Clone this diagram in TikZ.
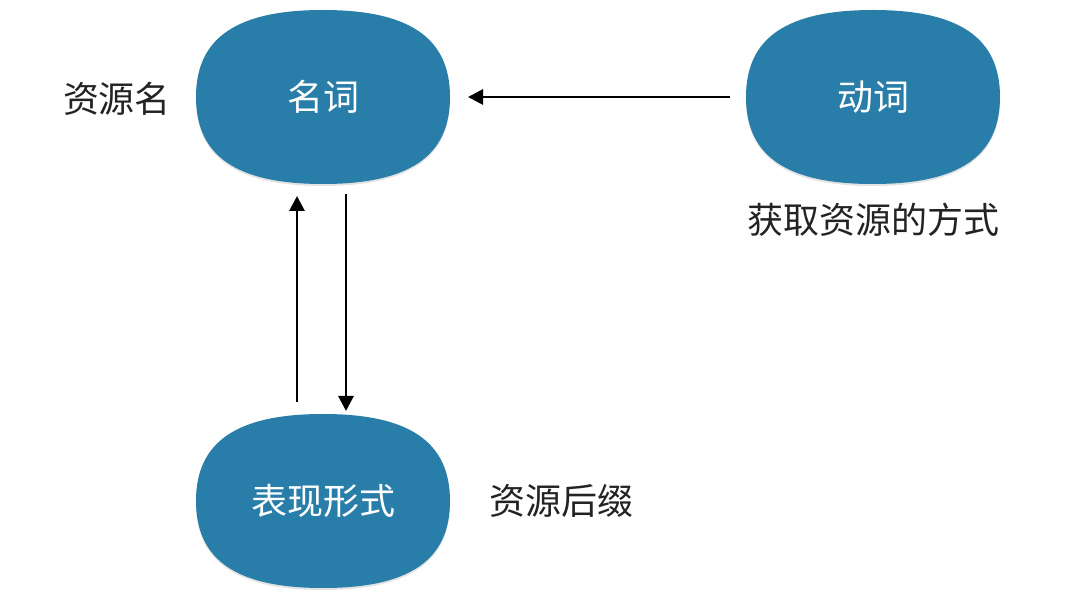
\documentclass[tikz,border=0pt]{standalone}
\usepackage{fontspec}
\newfontfamily\cjk{Noto Sans CJK SC}
\usetikzlibrary{arrows.meta,shadows,calc}
\pgfdeclarelayer{background}
\pgfsetlayers{background,main}
\definecolor{blobblue}{RGB}{41,126,169}
\definecolor{labelgray}{RGB}{35,35,35}
\newcommand{\blobk}{0.68}
\newcommand{\drawblob}[1]{%
  \fill[blobblue, drop shadow={opacity=0.22, shadow xshift=0pt, shadow yshift=-2pt}]
    (#1.east)
    .. controls ($(#1.east)!\blobk!(#1.north east)$) and ($(#1.north)!\blobk!(#1.north east)$) .. (#1.north)
    .. controls ($(#1.north)!\blobk!(#1.north west)$) and ($(#1.west)!\blobk!(#1.north west)$) .. (#1.west)
    .. controls ($(#1.west)!\blobk!(#1.south west)$) and ($(#1.south)!\blobk!(#1.south west)$) .. (#1.south)
    .. controls ($(#1.south)!\blobk!(#1.south east)$) and ($(#1.east)!\blobk!(#1.south east)$) .. (#1.east) -- cycle;}
\tikzset{
  blob/.style={rectangle, draw=none,
    minimum width=254pt, minimum height=174pt, inner sep=0pt, outer sep=0pt,
    text=white, font=\cjk\fontsize{36}{42}\selectfont},
  lbl/.style={text=labelgray, font=\cjk\fontsize{36}{42}\selectfont, inner sep=0pt},
  arr/.style={line width=2.8pt, -{Triangle[length=15pt,width=15pt]}}
}
\begin{document}
\begin{tikzpicture}[x=1pt,y=1pt]
\useasboundingbox (0,0) rectangle (1080,-612);
\node[blob] (noun) at (323,-97) {名词};
\node[blob] (verb) at (873,-97) {动词};
\node[blob] (form) at (323,-501) {表现形式};
\begin{pgfonlayer}{background}
\drawblob{noun}
\drawblob{verb}
\drawblob{form}
\end{pgfonlayer}
\node[lbl] (lname) at (117,-99) {资源名};
\node[lbl] (lway) at (873,-220) {获取资源的方式};
\node[lbl] (lsuf) at (561,-501) {资源后缀};
\draw[arr] ([xshift=-16pt]verb.west) -- ([xshift=18pt]noun.east);
\draw[arr] ([xshift=-26pt,yshift=12pt]form.north) -- ([xshift=-26pt,yshift=-12pt]noun.south);
\draw[arr] ([xshift=23pt,yshift=-10pt]noun.south) -- ([xshift=23pt,yshift=3pt]form.north);
\end{tikzpicture}
\end{document}
